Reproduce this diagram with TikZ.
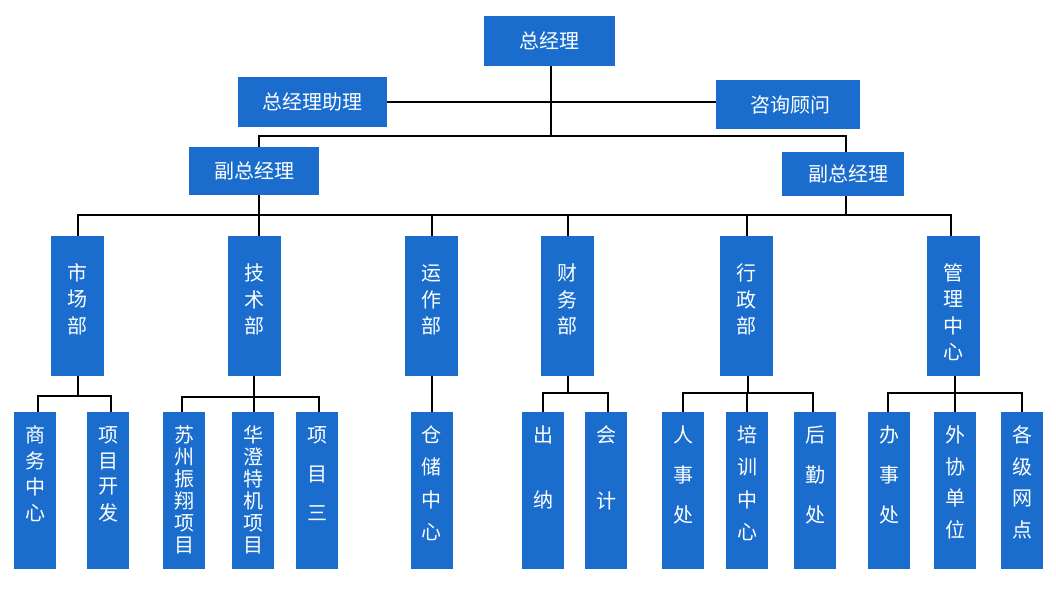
\documentclass[tikz,border=0pt]{standalone}
\usepackage{fontspec}
\newfontfamily\cjk{Noto Sans CJK SC}
\definecolor{boxblue}{HTML}{1A6DCD}
\newcommand\vbx[8]{%
  \node[box, minimum width=#4pt, minimum height=#5pt] (#1) at (#2,#3) {};
  \foreach \c [count=\i from 0] in {#8} \node[txt] (#1-\i) at (#2,{#6+\i*#7}) {\c};
}
\begin{document}
\begin{tikzpicture}[x=1pt,y=-1pt,
  box/.style={fill=boxblue, draw=none, inner sep=0pt, outer sep=0pt},
  txt/.style={text=white, font=\cjk\fontsize{20}{20}\selectfont, inner sep=0pt},
  hbx/.style={box, txt},
  conn/.style={draw=black, line width=2pt}]
\useasboundingbox[fill=white] (0,0) rectangle (1056,592);

% top level
\node[hbx, minimum width=131pt, minimum height=50pt] (zjl) at (549.5,41) {总经理};
\node[hbx, minimum width=149pt, minimum height=50pt] (zl) at (312.5,102) {总经理助理};
\node[hbx, minimum width=144pt, minimum height=49pt] (zx) at (788,104.5) {\hspace*{4pt}咨询顾问};
\node[hbx, minimum width=130pt, minimum height=48pt] (fz1) at (254,171) {副总经理};
\node[hbx, minimum width=122pt, minimum height=44pt] (fz2) at (843,174) {\hspace*{10pt}副总经理};

% departments
\vbx{scb}{77.5}{306}{53}{140}{273}{26.5}{市,场,部}
\vbx{jsb}{254.5}{306}{53}{140}{273}{26.5}{技,术,部}
\vbx{yzb}{431.5}{306}{53}{140}{273}{26.5}{运,作,部}
\vbx{cwb}{567.5}{306}{53}{140}{273}{26.5}{财,务,部}
\vbx{xzb}{746.5}{306}{53}{140}{273}{26.5}{行,政,部}
\vbx{glzx}{953.5}{306}{53}{140}{273}{26.2}{管,理,中,心}

% lower level
\vbx{swzx}{35}{490.5}{42}{157}{435}{26}{商,务,中,心}
\vbx{xmkf}{108}{490.5}{42}{157}{435}{26}{项,目,开,发}
\vbx{szzx}{184}{490.5}{42}{157}{435}{22}{苏,州,振,翔,项,目}
\vbx{hctj}{253}{490.5}{42}{157}{435}{22}{华,澄,特,机,项,目}
\vbx{xms}{317}{490.5}{42}{157}{435}{39}{项,目,三}
\vbx{ccz}{431.5}{490.5}{42}{157}{435}{32.3}{仓,储,中,心}
\vbx{cn}{543}{490.5}{42}{157}{435}{65}{出,纳}
\vbx{kj}{606}{490.5}{42}{157}{435}{66}{会,计}
\vbx{rsc}{683}{490.5}{42}{157}{435}{40}{人,事,处}
\vbx{pxzx}{747}{490.5}{42}{157}{435}{32.3}{培,训,中,心}
\vbx{hqc}{815}{490.5}{42}{157}{435}{40}{后,勤,处}
\vbx{bsc}{889}{490.5}{42}{157}{435}{40}{办,事,处}
\vbx{wxdw}{955}{490.5}{42}{157}{435}{31.7}{外,协,单,位}
\vbx{gjwd}{1022}{490.5}{42}{157}{435}{31.7}{各,级,网,点}

% connectors, top
\coordinate (b1) at (550.5,136);
\draw[conn] ([xshift=1pt]zjl.south) -- (b1);
\draw[conn] (zl.east) -- (zl.east -| zx.west);
\draw[conn] ([xshift=4.5pt]fz1.north) |- (b1) -| ([xshift=2.5pt]fz2.north);
\coordinate (b2) at (550.5,215);
\draw[conn] (scb.north) |- (b2) -| ([xshift=-3pt]glzx.north);
\draw[conn] ([xshift=4.5pt]jsb.north) -- ([xshift=4.5pt]jsb.north |- b2);
\foreach \n in {yzb,cwb,xzb} \draw[conn] (\n.north) -- (\n.north |- b2);
\draw[conn] ([xshift=4.5pt]fz1.south) -- ([xshift=4.5pt]fz1.south |- b2);
\draw[conn] ([xshift=2.5pt]fz2.south) -- ([xshift=2.5pt]fz2.south |- b2);

% connectors, lower
\coordinate (scj) at (77.5,396);
\draw[conn] (scb.south) -- (scj);
\draw[conn] ([xshift=3pt]swzx.north) |- (scj) -| ([xshift=2.5pt]xmkf.north);

\coordinate (jsj) at (254,397);
\draw[conn] ([xshift=-0.5pt]jsb.south) -- (jsj);
\draw[conn] ([xshift=-2pt]szzx.north) |- (jsj) -| ([xshift=2pt]xms.north);
\draw[conn] ([xshift=1pt]hctj.north) -- ([xshift=1pt]hctj.north |- jsj);

\draw[conn] (yzb.south) -- (ccz.north);

\coordinate (cwj) at (567.5,393);
\draw[conn] (cwb.south) -- (cwj);
\draw[conn] (cn.north) |- (cwj) -| ([xshift=2pt]kj.north);

\coordinate (xzj) at (747.5,393);
\draw[conn] ([xshift=1pt]xzb.south) -- (xzj);
\draw[conn] (rsc.north) |- (xzj) -| ([xshift=-2pt]hqc.north);
\draw[conn] (pxzx.north) -- (pxzx.north |- xzj);

\coordinate (glj) at (955,393);
\draw[conn] ([xshift=1.5pt]glzx.south) -- (glj);
\draw[conn] ([xshift=-1pt]bsc.north) |- (glj) -| ([xshift=-0.5pt]gjwd.north);
\draw[conn] (wxdw.north) -- (wxdw.north |- glj);
\end{tikzpicture}
\end{document}
